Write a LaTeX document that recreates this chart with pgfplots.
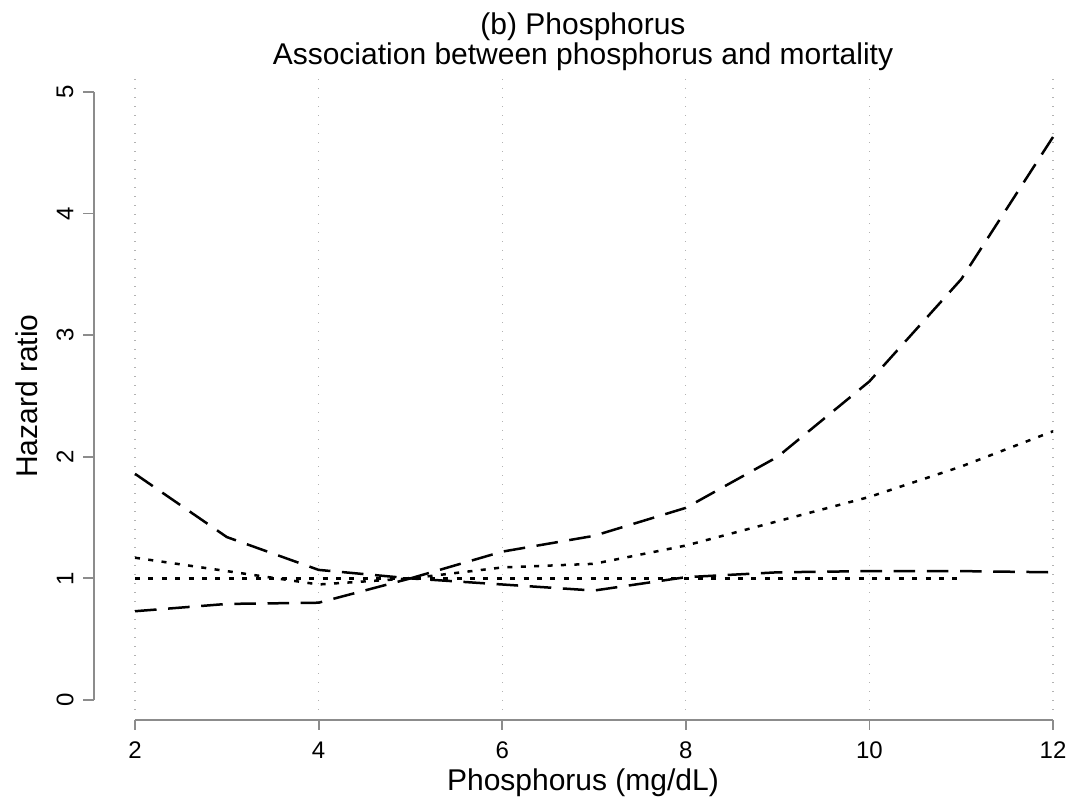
\documentclass[border=0pt]{standalone}
\usepackage{fontspec}
\setmainfont{Liberation Sans}
\usepackage{pgfplots}
\pgfplotsset{compat=1.18}
\definecolor{axcol}{gray}{0.55}
\definecolor{gridcol}{gray}{0.70}
\begin{document}
\begin{tikzpicture}
\begin{axis}[
  width=537.5pt, height=403.5pt, scale only axis,
  xmin=0.5294, xmax=12.2397, ymin=-0.8799, ymax=5.7566,
  hide axis, clip=false,
]
% invisible frame for bounding box
\path (axis cs:0.5294,-0.8799) rectangle (axis cs:12.2397,5.7566);
% vertical dotted gridlines
\pgfplotsinvokeforeach{2,4,6,8,10,12}{
  \draw[gridcol, line width=0.6pt, dash pattern=on 0.6pt off 3.9pt] (axis cs:#1,-0.08) -- (axis cs:#1,5.13);
}
% y axis
\draw[axcol, line width=0.9pt] (axis cs:1.557,0) -- (axis cs:1.557,5);
\pgfplotsinvokeforeach{0,1,2,3,4,5}{
  \draw[axcol, line width=0.9pt] (axis cs:1.4336,#1) -- (axis cs:1.557,#1);
  \node[rotate=90, font=\fontsize{12}{14}\selectfont, inner sep=0pt] at (axis cs:1.2375,#1) {#1};
}
% x axis
\draw[axcol, line width=0.9pt] (axis cs:2,-0.164) -- (axis cs:12,-0.164);
\pgfplotsinvokeforeach{2,4,6,8,10,12}{
  \draw[axcol, line width=0.9pt] (axis cs:#1,-0.164) -- (axis cs:#1,-0.247);
  \node[font=\fontsize{12}{14}\selectfont, inner sep=0pt] at (axis cs:#1,-0.411) {#1};
}
% titles and labels
\node[anchor=base, font=\fontsize{15}{18}\selectfont, inner sep=0pt] at (axis cs:6.88,5.470) {(b) Phosphorus};
\node[anchor=base, font=\fontsize{15}{18}\selectfont, inner sep=0pt] at (axis cs:6.88,5.225) {Association between phosphorus and mortality};
\node[anchor=base, font=\fontsize{15}{18}\selectfont, inner sep=0pt] at (axis cs:6.88,-0.748) {Phosphorus (mg/dL)};
\node[rotate=90, font=\fontsize{15}{18}\selectfont, inner sep=0pt] at (axis cs:0.8235,2.5) {Hazard ratio};

% reference line
\addplot[black, line width=1.2pt, dash pattern=on 2.5pt off 4.2pt] coordinates {(2,1) (11,1)};
% upper CI
\addplot[black, line width=1.25pt, line join=round, dash pattern=on 10.8pt off 5.8pt] coordinates {
(2,1.86) (3,1.34) (4,1.07) (5,1.00) (6,1.22) (7,1.35) (8,1.58) (9,2.00) (10,2.62) (11,3.46) (12,4.63)};
% estimate
\addplot[black, line width=1.25pt, line join=round, dash pattern=on 2.5pt off 4.2pt] coordinates {
(2,1.17) (3,1.06) (4,0.95) (5,1.00) (6,1.09) (7,1.12) (8,1.27) (9,1.47) (10,1.67) (11,1.92) (12,2.21)};
% lower CI
\addplot[black, line width=1.25pt, line join=round, dash pattern=on 10.8pt off 5.8pt] coordinates {
(2,0.73) (3,0.79) (4,0.80) (5,1.00) (6,0.95) (7,0.90) (8,1.01) (9,1.05) (10,1.06) (11,1.06) (12,1.05)};
\end{axis}
\end{tikzpicture}
\end{document}
